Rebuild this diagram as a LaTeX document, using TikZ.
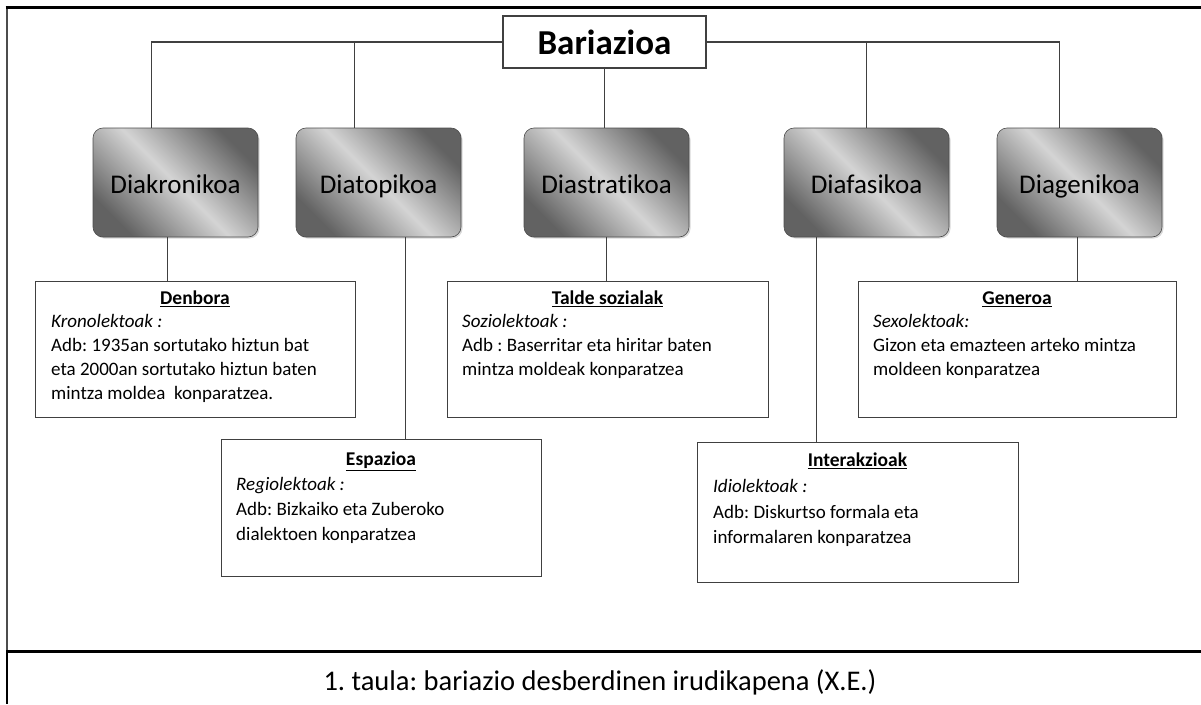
\documentclass[tikz,border=0pt]{standalone}
\usepackage{fontspec}
\setmainfont{Carlito}[Ligatures=NoCommon]
\usetikzlibrary{shadows}
\definecolor{gdark}{RGB}{98,98,98}
\definecolor{glight}{RGB}{212,212,212}
\definecolor{lcol}{RGB}{64,64,64}
\frenchspacing
\begin{document}
\begin{tikzpicture}[x=1pt,y=-1pt,
  conn/.style={draw=lcol, line width=1.1pt},
  gbox/.style={rounded corners=10pt, minimum width=165pt, minimum height=109pt,
    draw=gray!60!black, line width=0.6pt, top color=gdark, bottom color=gdark,
    middle color=glight, shading angle=-45,
    drop shadow={opacity=0.3, shadow xshift=1.5pt, shadow yshift=-1.5pt},
    font=\fontsize{27}{30}\selectfont, inner sep=0pt, text height=22pt, text depth=0pt},
  tbox/.style={draw=lcol, line width=1.1pt, inner sep=0pt, anchor=north west},
  ttl/.style={font=\fontsize{19.5}{22}\selectfont\bfseries, anchor=mid, inner sep=0pt},
  ln/.style={font=\fontsize{19}{22}\selectfont, anchor=mid west, inner sep=0pt},
]
\useasboundingbox (0,0) rectangle (1201,704);
% frame
\draw[line width=2pt, gray!60!black] (7,7) -- (7,651);
\draw[line width=2pt, black] (7,651) -- (7,704);
\draw[line width=3pt, black] (5.5,7) -- (1201,7);
\draw[line width=3pt, black] (6,651) -- (1201,651);

% root
\node[draw=lcol, line width=1.1pt, minimum width=203pt, minimum height=52pt, inner sep=0pt,
  font=\fontsize{35}{40}\selectfont\bfseries] (B) at (604.5,42) {Bariazioa};

% category boxes
\node[gbox] (D1) at (175.5,182.5) {Diakronikoa};
\node[gbox] (D2) at (378.5,182.5) {Diatopikoa};
\node[gbox] (D3) at (606.5,182.5) {Diastratikoa};
\node[gbox] (D4) at (866.5,182.5) {Diafasikoa};
\node[gbox] (D5) at (1079.5,182.5) {Diagenikoa};

% text boxes
\node[tbox, minimum width=320pt, minimum height=136pt] (T1) at (35,281) {};
\node[tbox, minimum width=320pt, minimum height=137pt] (T2) at (221,439) {};
\node[tbox, minimum width=321pt, minimum height=136pt] (T3) at (447,281) {};
\node[tbox, minimum width=321pt, minimum height=140pt] (T4) at (697,442) {};
\node[tbox, minimum width=318pt, minimum height=136pt] (T5) at (858,281) {};

% tree connectors
\draw[conn] (B.west) -| ([xshift=59pt]D1.north west);
\draw[conn] ([xshift=59pt]D2.north west) -- ([xshift=59pt]D2.north west |- B.west);
\draw[conn] (B.south) -- (B.south |- D3.north);
\draw[conn] (B.east) -| ([xshift=63pt]D5.north west);
\draw[conn] (D4.north) -- (D4.north |- B.east);

\draw[conn] ([xshift=75pt]D1.south west) -- ([xshift=75pt]D1.south west |- T1.north);
\draw[conn] ([xshift=110pt]D2.south west) -- ([xshift=110pt]D2.south west |- T2.north);
\draw[conn] (D3.south) -- (D3.south |- T3.north);
\draw[conn] ([xshift=33pt]D4.south west) -- ([xshift=33pt]D4.south west |- T4.north);
\draw[conn] ([xshift=81pt]D5.south west) -- ([xshift=81pt]D5.south west |- T5.north);

% Denbora
\node[ttl] (t1a) at (195,302) {\underline{Denbora}};
\node[ln] (t1b) at (51,325) {\itshape Kronolektoak :};
\node[ln] (t1c) at (51,349) {Adb: 1935an sortutako hiztun bat};
\node[ln] (t1d) at (51,373) {eta 2000an sortutako hiztun baten};
\node[ln] (t1e) at (51,397) {mintza moldea\ \ konparatzea.};

% Espazioa
\node[ttl] (t2a) at (381,463) {\underline{Espazioa}};
\node[ln] (t2b) at (236,488) {\itshape Regiolektoak :};
\node[ln] (t2c) at (236,513) {Adb: Bizkaiko eta Zuberoko};
\node[ln] (t2d) at (236,538) {dialektoen konparatzea};

% Talde sozialak
\node[ttl] (t3a) at (607.5,302) {\underline{Talde sozialak}};
\node[ln] (t3b) at (462,325) {\itshape Soziolektoak :};
\node[ln] (t3c) at (462,349) {Adb : Baserritar eta hiritar\ baten};
\node[ln] (t3d) at (462,373) {mintza moldeak konparatzea};

% Interakzioak
\node[ttl] (t4a) at (857.5,464) {\underline{Interakzioak}};
\node[ln] (t4b) at (713,490) {\itshape Idiolektoak :};
\node[ln] (t4c) at (713,516) {Adb: Diskurtso formala eta};
\node[ln] (t4d) at (713,541) {informalaren konparatzea};

% Generoa
\node[ttl] (t5a) at (1017,302) {\underline{Generoa}};
\node[ln] (t5b) at (873,325) {\itshape Sexolektoak:};
\node[ln] (t5c) at (873,349) {Gizon eta emazteen arteko mintza};
\node[ln] (t5d) at (873,373) {moldeen konparatzea};

% caption
\node[font=\fontsize{28.5}{32}\selectfont, inner sep=0pt] (cap) at (600,682)
  {1. taula: bariazio desberdinen irudikapena (X.E.)};
\end{tikzpicture}
\end{document}
